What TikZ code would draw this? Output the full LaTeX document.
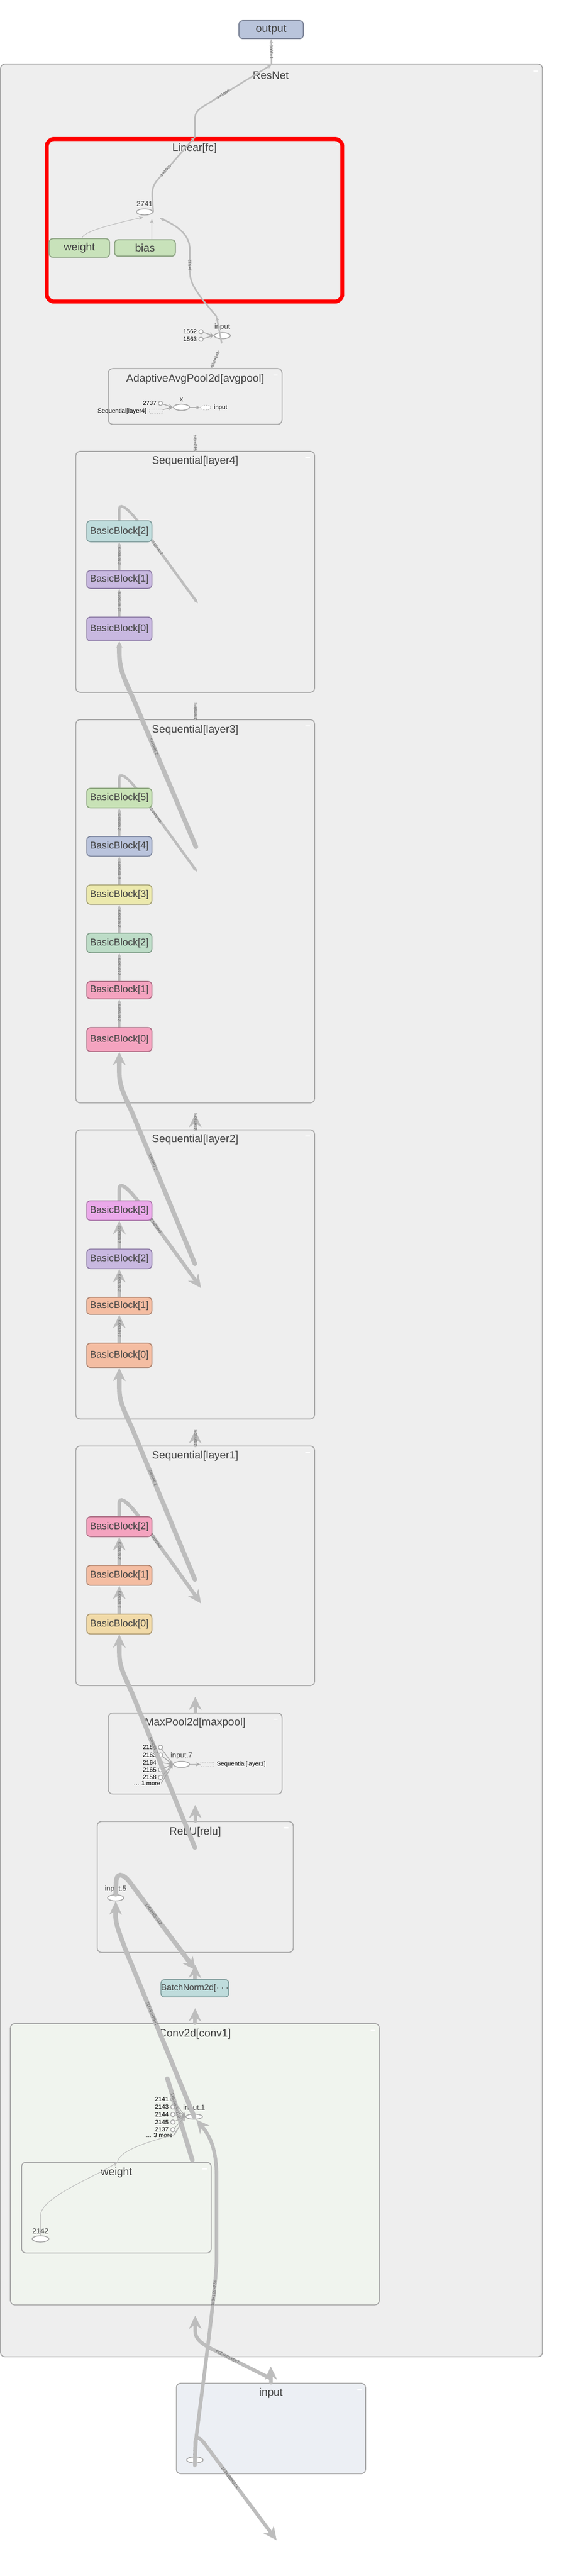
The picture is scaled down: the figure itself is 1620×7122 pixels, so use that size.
\documentclass[tikz,border=0pt]{standalone}
\usepackage{fontspec}
\setmainfont{Liberation Sans}
\usepackage{tikz}
\usetikzlibrary{positioning,shapes.geometric,arrows.meta}
\usepackage{xcolor}

\pgfdeclarelayer{front}
\pgfsetlayers{main,front}

\definecolor{boxfill}{HTML}{EEEEEE}
\definecolor{boxline}{HTML}{A8A8A8}
\definecolor{edgegray}{HTML}{BDBDBD}
\definecolor{txtgray}{HTML}{444444}
\definecolor{lblgray}{HTML}{666666}
\definecolor{convfill}{HTML}{F0F4EE}
\definecolor{inputfill}{HTML}{ECEFF4}
\definecolor{cout}{HTML}{B9C4DB}\definecolor{dout}{HTML}{7D8599}
\definecolor{cpar}{HTML}{C8E2BA}\definecolor{dpar}{HTML}{8EA584}
\definecolor{cteal}{HTML}{BFDCDC}\definecolor{dteal}{HTML}{7E9C9C}
\definecolor{clav}{HTML}{C8B8E0}\definecolor{dlav}{HTML}{8E7DA6}
\definecolor{cgrn}{HTML}{C8E2B6}\definecolor{dgrn}{HTML}{8DA67F}
\definecolor{cblu}{HTML}{B9C3DC}\definecolor{dblu}{HTML}{7E879E}
\definecolor{cyel}{HTML}{ECE9AD}\definecolor{dyel}{HTML}{A6A275}
\definecolor{cmnt}{HTML}{BDDCC7}\definecolor{dmnt}{HTML}{809D89}
\definecolor{cpnk}{HTML}{F4A3BF}\definecolor{dpnk}{HTML}{AE6F86}
\definecolor{corc}{HTML}{EBA9EA}\definecolor{dorc}{HTML}{A770A6}
\definecolor{cslm}{HTML}{F4BDA2}\definecolor{dslm}{HTML}{AE8571}
\definecolor{cwht}{HTML}{F1DAA8}\definecolor{dwht}{HTML}{AD9A72}

\begin{document}
\begin{tikzpicture}[%
    x=0.01cm,
    y=-0.01cm,
    node distance=0.77cm,
    group/.style={%
      rectangle,
      rounded corners=0.12cm,
      draw=boxline,
      line width=0.75pt,
      fill=boxfill,
      inner sep=0pt
    },
    grptitle/.style={font=\fontsize{8.5}{10}\selectfont, text=txtgray, inner sep=0pt},
    bb/.style={%
      rectangle,
      rounded corners=0.1cm,
      line width=0.7pt,
      fill=c#1,
      draw=d#1,
      minimum width=1.8cm,
      minimum height=0.54cm,
      inner sep=0pt,
      text=txtgray,
      font=\fontsize{7.7}{9}\selectfont
    },
    param/.style={%
      rectangle,
      rounded corners=0.1cm,
      fill=cpar,
      draw=dpar,
      line width=0.8pt,
      minimum width=1.67cm,
      minimum height=0.43cm,
      font=\fontsize{8.5}{10}\selectfont,
      text=txtgray
    },
    op/.style={ellipse, draw=boxline, fill=white, line width=0.7pt, minimum width=0.45cm, minimum height=0.17cm, inner sep=0pt},
    port/.style={circle, draw=boxline, fill=white, line width=0.6pt, minimum size=0.12cm, inner sep=0pt},
    dashnode/.style={rectangle, rounded corners=0.03cm, draw=boxline!70, dash pattern=on 1pt off 0.8pt, line width=0.4pt, minimum width=0.37cm, minimum height=0.12cm, inner sep=0pt},
    oplbl/.style={font=\fontsize{5.7}{6}\selectfont, text=txtgray, inner sep=0.5pt},
    portlbl/.style={font=\fontsize{4.8}{5}\selectfont, text=black, inner sep=0.5pt},
    lbl/.style={font=\fontsize{3.3}{3.5}\selectfont, text=lblgray, sloped, allow upside down, inner sep=0pt},
    feed/.style={draw=boxline, line width=0.6pt, -{Stealth[length=3.4pt,width=3pt]}},
    hairedge/.style={draw=edgegray, line width=0.45pt},
    slimedge/.style={draw=edgegray, line width=1.2pt, line cap=round},
    midedge/.style={draw=edgegray, line width=2pt, line cap=round},
    wideedge/.style={draw=edgegray, line width=2.8pt, line cap=round},
    fatedge/.style={draw=edgegray, line width=3.6pt, line cap=round},
    tipsmall/.style={-{Stealth[length=3.4pt,width=3pt,line width=0.2pt]}},
    tipmid/.style={-{Stealth[length=5pt,width=5pt,line width=0.2pt]}},
    tipbig/.style={-{Stealth[length=10.5pt,width=10pt,line width=0.2pt]}},
    minbar/.style={draw=white, line width=0.9pt}
  ]
    \useasboundingbox (0,0) rectangle (1620,7122);

    \node[group, minimum width=14.98cm, minimum height=63.35cm] (resnet) at (751,3346.5) {};
    \node[grptitle] (resnettitle) at (749,209) {ResNet};

    \node[group, draw=red, line width=3.1pt, rounded corners=0.2cm, minimum width=8.17cm, minimum height=4.49cm] (linear) at (538,609) {};
    \node[grptitle] (lineartitle) at ([yshift=-0.32cm]linear.north) {Linear[fc]};

    \node[group, minimum width=4.8cm, minimum height=1.54cm] (avgpool) at (540,1096) {};
    \node[grptitle] (avgpooltitle) at ([yshift=-0.31cm]avgpool.north) {AdaptiveAvgPool2d[avgpool]};

    \node[group, minimum width=6.6cm, minimum height=6.66cm] (layer4) at (540,1581) {};
    \node[grptitle] (layer4title) at ([yshift=-0.29cm]layer4.north) {Sequential[layer4]};
    \node[group, minimum width=6.6cm, minimum height=10.59cm] (layer3) at (540,2519.5) {};
    \node[grptitle] (layer3title) at ([yshift=-0.3cm]layer3.north) {Sequential[layer3]};
    \node[group, minimum width=6.6cm, minimum height=7.99cm] (layer2) at (540,3523.5) {};
    \node[grptitle] (layer2title) at ([yshift=-0.29cm]layer2.north) {Sequential[layer2]};
    \node[group, minimum width=6.6cm, minimum height=6.62cm] (layer1) at (540,4329) {};
    \node[grptitle] (layer1title) at ([yshift=-0.29cm]layer1.north) {Sequential[layer1]};

    \node[group, minimum width=4.8cm, minimum height=2.24cm] (maxpool) at (540,4848) {};
    \node[grptitle] (maxpooltitle) at ([yshift=-0.29cm]maxpool.north) {MaxPool2d[maxpool]};
    \node[group, minimum width=5.42cm, minimum height=3.62cm] (relu) at (540,5217) {};
    \node[grptitle] (relutitle) at ([yshift=-0.3cm]relu.north) {ReLU[relu]};

    \node[group, fill=convfill, minimum width=10.2cm, minimum height=7.77cm] (conv1) at (539,5983.5) {};
    \node[grptitle] (conv1title) at ([yshift=-0.3cm]conv1.north) {Conv2d[conv1]};
    \node[group, fill=convfill, minimum width=5.24cm, minimum height=2.51cm] (weightgrp) at (322,6103.5) {};
    \node[grptitle] (weightgrptitle) at ([yshift=-0.3cm]weightgrp.north) {weight};

    \node[group, fill=inputfill, minimum width=5.23cm, minimum height=2.5cm] (inputbox) at (749.5,6714) {};
    \node[grptitle] (inputboxtitle) at ([yshift=-0.29cm]inputbox.north) {input};

    \foreach \mx/\my in {1481/196, 934/400, 762/1037, 851/1265, 851/2007, 851/3141, 851/4015, 762/4753, 792/5053, 1032/5613, 566/5996, 994/6607}
      \draw[minbar] (\mx-6,\my) -- (\mx+6,\my);

    \node[op] (fc2741) at (400,586) {};
    \node[oplbl, above=0.03cm of fc2741] (t2741) {2741};

    \node[op] (fcinput) at (615,928) {};
    \node[oplbl, above=0.02cm of fcinput] (tfcinput) {input};
    \node[port] (c1562) at (556,917) {};
    \node[port] (c1563) at (556,938) {};
    \node[portlbl, left=0.02cm of c1562] (t1562) {1562};
    \node[portlbl, left=0.02cm of c1563] (t1563) {1563};

    \node[port] (c2737) at (444,1115) {};
    \node[portlbl, left=0.02cm of c2737] (t2737) {2737};
    \node[dashnode] (seql4) at (432,1137) {};
    \node[portlbl, left=0.05cm of seql4] (tseql4) {Sequential[layer4]};
    \node[op] (poolx) at (502,1126) {};
    \node[oplbl, above=0.03cm of poolx] (tpoolx) {x};
    \node[op, dash pattern=on 1pt off 0.8pt, line width=0.4pt, minimum width=0.29cm, minimum height=0.13cm] (poolin) at (569,1127) {};
    \node[portlbl, right=0.05cm of poolin] (tpoolin) {input};

    \begin{pgfonlayer}{front}
    \node[rectangle, rounded corners=0.1cm, fill=cout, draw=dout, line width=0.8pt, minimum width=1.78cm, minimum height=0.44cm, font=\fontsize{8.7}{10}\selectfont, text=txtgray] (output) at (750,82) {output};
    \node[param] (weight) at (219.5,685.5) {weight};
    \node[param, minimum width=1.68cm] (bias) at (401,685.5) {bias};

    \node[bb=lav, minimum height=0.66cm] (l4b0) at (330,1739) {BasicBlock[0]};
    \node[bb=lav, minimum height=0.49cm] (l4b1) [above=of l4b0] {BasicBlock[1]};
    \node[bb=teal, minimum height=0.58cm] (l4b2) [above=of l4b1] {BasicBlock[2]};

    \node[bb=pnk, minimum height=0.66cm] (l3b0) at (330,2874) {BasicBlock[0]};
    \node[bb=pnk, minimum height=0.48cm] (l3b1) [above=of l3b0] {BasicBlock[1]};
    \node[bb=mnt] (l3b2) [above=of l3b1] {BasicBlock[2]};
    \node[bb=yel] (l3b3) [above=of l3b2] {BasicBlock[3]};
    \node[bb=blu] (l3b4) [above=of l3b3] {BasicBlock[4]};
    \node[bb=grn] (l3b5) [above=of l3b4] {BasicBlock[5]};

    \node[bb=slm, minimum height=0.67cm] (l2b0) at (330,3747) {BasicBlock[0]};
    \node[bb=slm, minimum height=0.47cm] (l2b1) [above=of l2b0] {BasicBlock[1]};
    \node[bb=lav] (l2b2) [above=of l2b1] {BasicBlock[2]};
    \node[bb=orc] (l2b3) [above=of l2b2] {BasicBlock[3]};

    \node[bb=wht, minimum height=0.55cm] (l1b0) at (330,4490) {BasicBlock[0]};
    \node[bb=slm, minimum height=0.55cm] (l1b1) [above=of l1b0] {BasicBlock[1]};
    \node[bb=pnk, minimum height=0.55cm] (l1b2) [above=of l1b1] {BasicBlock[2]};

    \node[bb=teal, minimum height=0.48cm, font=\fontsize{6.8}{8}\selectfont] (bn) at (539,5497) {BatchNorm2d[$\cdots$};
    \end{pgfonlayer}

    \node[port] (c2162) at (444,4831) {};
    \node[port] (c2163) at (444,4852) {};
    \node[port] (c2164) at (444,4873) {};
    \node[port] (c2165) at (444,4893) {};
    \node[port] (c2158) at (444,4914) {};
    \node[portlbl, left=0.02cm of c2162] (t2162) {2162};
    \node[portlbl, left=0.02cm of c2163] (t2163) {2163};
    \node[portlbl, left=0.02cm of c2164] (t2164) {2164};
    \node[portlbl, left=0.02cm of c2165] (t2165) {2165};
    \node[portlbl, left=0.02cm of c2158] (t2158) {2158};
    \node[portlbl, anchor=east] (more1) at (446,4930) {... 1 more};
    \node[op] (in7) at (502,4878) {};
    \node[oplbl, above=0.03cm of in7] (tin7) {input.7};
    \node[dashnode] (seql1) at (573,4878) {};
    \node[portlbl, right=0.05cm of seql1] (tseql1) {Sequential[layer1]};

    \node[op] (in5) at (320,5247) {};
    \node[oplbl, above=0.03cm of in5] (tin5) {input.5};

    \node[port] (c2141) at (478,5804) {};
    \node[port] (c2143) at (478,5825) {};
    \node[port] (c2144) at (478,5846) {};
    \node[port] (c2145) at (478,5867) {};
    \node[port] (c2137) at (478,5888) {};
    \node[portlbl, left=0.02cm of c2141] (t2141) {2141};
    \node[portlbl, left=0.02cm of c2143] (t2143) {2143};
    \node[portlbl, left=0.02cm of c2144] (t2144) {2144};
    \node[portlbl, left=0.02cm of c2145] (t2145) {2145};
    \node[portlbl, left=0.02cm of c2137] (t2137) {2137};
    \node[portlbl, anchor=east] (more3) at (480,5903) {... 3 more};
    \node[op, minimum height=0.14cm, minimum width=0.46cm] (in1) at (537,5852) {};
    \node[oplbl, above=0.03cm of in1] (tin1) {input.1};
    \node[op, minimum width=0.46cm] (w2142) at (112,6190) {};
    \node[oplbl, above=0.03cm of w2142] (t2142) {2142};

    \node[op, minimum width=0.46cm] (inx) at (539,6801) {};
    \node[oplbl, above=0.03cm of inx] (tinx) {x};

    \coordinate (resnettop) at (751,179);
    \coordinate (fctop) at (539,379);
    \coordinate (fcin) at (599,875);
    \coordinate (fcinlow) at (613,948);
    \coordinate (poolout) at (584,1019);
    \coordinate (poolouttip) at (606,968);
    \coordinate (pooltip) at (540,1203);
    \coordinate (l4tip) at (540,1947);
    \coordinate (l3tip) at (540,3080);
    \coordinate (l2tip) at (540,3954);
    \coordinate (l1tip) at (540,4691);
    \coordinate (mptip) at (540,4990);
    \coordinate (relutip) at (540,5432);
    \coordinate (bntip) at (540,5552);
    \coordinate (inboxtip) at (749,6543);
    \coordinate (l4loop) at (547,1668);
    \coordinate (l3loop) at (545,2410);
    \coordinate (l2loop) at (556,3561);
    \coordinate (l1loop) at (556,4433);
    \coordinate (p3) at (542,2341);
    \coordinate (p2) at (539,3494);
    \coordinate (p1) at (539,4367);
    \coordinate (p0) at (539,5108);
    \coordinate (bnin) at (541,5447);
    \coordinate (bstart) at (463,5747);
    \coordinate (wtop) at (532,5972);
    \coordinate (wtip) at (325,5978);
    \coordinate (xbot) at (539,6816);
    \coordinate (outtip) at (765,7023);
    \coordinate (inboxedge) at (749,6576);
    \coordinate (resin) at (540,6402);

    \draw[slimedge, tipsmall] (resnettop) -- node[lbl] {1×1000} (output);
    \draw[slimedge, tipsmall] (fc2741.east) -- (421,540) .. controls (421,515) and (428,505) .. (444,488) -- node[lbl, pos=0.15] {1×1000} (fctop);
    \draw[slimedge, tipsmall] (fctop) -- (539,330) .. controls (539,312) and (548,302) .. (566,292) -- node[lbl, pos=0.28] {1×1000} (resnettop);
    \draw[hairedge, tipsmall] ([xshift=0.07cm]weight.north) .. controls (232,640) and (300,622) .. ([xshift=-0.04cm,yshift=-0.05cm]fc2741.south);
    \draw[hairedge, tipsmall] ([xshift=0.19cm]bias.north) -- ([xshift=0.2cm,yshift=-0.1cm]fc2741.south);
    \draw[slimedge, tipsmall] (fcinlow) -- (fcin);
    \draw[slimedge, tipsmall] (fcin) -- (560,828) .. controls (532,790) and (525,775) .. (525,745) -- node[lbl, pos=0.2] {1×512} (525,690) .. controls (525,645) and (485,622) .. ([xshift=0.42cm,yshift=-0.17cm]fc2741.center);
    \draw[feed] (c1562) -- (fcinput.west);
    \draw[feed] (c1563) -- (fcinput.west);

    \draw[slimedge, tipsmall] (poolout) -- node[lbl] {512×1×1} (poolouttip);
    \draw[feed] (c2737) -- (poolx.west);
    \draw[feed] (seql4) -- (poolx.west);
    \draw[feed] (poolx) -- (poolin);

    \draw[slimedge, tipsmall] (layer4.north) -- node[lbl] {512×4×7} (pooltip);
    \draw[midedge, tipsmall] (layer3.north) -- node[lbl] {2 tensors} (l4tip);
    \draw[wideedge, tipbig] (layer2.north) -- node[lbl] {2 tensors} (l3tip);
    \draw[wideedge, tipbig] (layer1.north) -- node[lbl] {2 tensors} (l2tip);
    \draw[wideedge, tipbig] (maxpool.north) -- (l1tip);
    \draw[wideedge, tipbig] (relu.north) -- (mptip);
    \draw[wideedge, tipbig] (bn.north) -- (relutip);
    \draw[wideedge, tipbig] (conv1.north) -- (bntip);
    \draw[wideedge, tipbig] (inputbox.north) -- (inboxtip);

    \path (l4b0) edge[midedge, tipsmall] node[lbl] {12 tensors} (l4b1)
          (l4b1) edge[midedge, tipsmall] node[lbl] {2 tensors} (l4b2)
          (l3b0) edge[midedge, tipsmall] node[lbl] {2 tensors} (l3b1)
          (l3b1) edge[midedge, tipsmall] node[lbl] {2 tensors} (l3b2)
          (l3b2) edge[midedge, tipsmall] node[lbl] {2 tensors} (l3b3)
          (l3b3) edge[midedge, tipsmall] node[lbl] {2 tensors} (l3b4)
          (l3b4) edge[midedge, tipsmall] node[lbl] {2 tensors} (l3b5)
          (l2b0) edge[wideedge, tipbig] node[lbl] {2 tensors} (l2b1)
          (l2b1) edge[wideedge, tipbig] node[lbl] {2 tensors} (l2b2)
          (l2b2) edge[wideedge, tipbig] node[lbl] {2 tensors} (l2b3)
          (l1b0) edge[wideedge, tipbig] node[lbl] {2 tensors} (l1b1)
          (l1b1) edge[wideedge, tipbig] node[lbl] {2 tensors} (l1b2)
          ;

    \draw[midedge, tipsmall] (l4b2.north) -- (330,1408) .. controls (330,1393) and (345,1396) .. (378,1437) -- node[lbl, pos=0.34] {512×4×7} (l4loop);
    \draw[midedge, tipsmall] (l3b5.north) -- (330,2152) .. controls (330,2137) and (345,2140) .. (378,2181) -- node[lbl, pos=0.32] {2 tensors} (l3loop);
    \draw[wideedge, tipbig] (l2b3.north) -- (330,3287) .. controls (330,3271) and (345,3274) .. (378,3316) -- node[lbl, pos=0.3] {2 tensors} (l2loop);
    \draw[wideedge, tipbig] (l1b2.north) -- (330,4156) .. controls (330,4140) and (345,4143) .. (378,4185) -- node[lbl, pos=0.3] {2 tensors} (l1loop);

    \draw[fatedge, tipmid] (p3) -- node[lbl, pos=0.68] {2 tensors} (370,1935) .. controls (342,1872) and (330,1850) .. (330,1805) -- (l4b0.south);
    \draw[fatedge, tipbig] (p2) -- node[lbl, pos=0.67] {2 tensors} (365,3075) .. controls (340,3020) and (330,3000) .. (330,2965) -- (l3b0.south);
    \draw[fatedge, tipbig] (p1) -- node[lbl, pos=0.67] {2 tensors} (365,3948) .. controls (340,3893) and (330,3873) .. (330,3838) -- (l2b0.south);
    \draw[fatedge, tipbig] (p0) -- node[lbl, pos=0.66] {2 tensors} (365,4680) .. controls (340,4625) and (330,4605) .. (330,4570) -- (l1b0.south);

    \foreach \c in {c2162,c2163,c2164,c2165,c2158}
      \draw[feed] (\c) -- (in7.west);
    \draw[feed] (more1.east) -- (in7.west);
    \draw[feed] (in7) -- (seql1);

    \draw[fatedge, tipbig] (in5.north) -- (321,5205) .. controls (322,5178) and (338,5176) .. (360,5205) -- node[lbl, pos=0.36] {1×64×55×112} (bnin);
    \draw[fatedge, tipbig] (in1.center) -- node[lbl, pos=0.61] {1×64×55×112} (345,5385) .. controls (333,5350) and (321,5325) .. (320,5300) -- (in5.south);
    \draw[fatedge] (bstart) -- node[lbl, pos=0.33] {1×64×55×112} (wtop);

    \foreach \c in {c2141,c2143,c2144,c2145,c2137}
      \draw[feed, line width=0.45pt] (\c) -- (in1.west);
    \draw[feed, line width=0.45pt] (more3.east) -- (in1.west);
    \draw[hairedge, tipsmall] (w2142.north) -- (112,6126) .. controls (112,6075) and (260,6020) .. (wtip);
    \draw[hairedge, tipsmall] (wtip) .. controls (328,5945) and (420,5918) .. (483,5902) -- (in1.west);

    \draw[wideedge, tipbig] (xbot) -- (542,6745) .. controls (560,6600) and (597,6330) .. node[lbl, pos=0.75] {1×3×109×224} (599,6250) -- (599,6020) .. controls (599,5950) and (585,5910) .. ([xshift=0.06cm]in1.south);
    \draw[wideedge, tipbig] (xbot) -- (540,6752) .. controls (541,6735) and (552,6737) .. (566,6756) -- node[lbl, pos=0.35] {1×3×109×224} (outtip);
    \draw[wideedge, tipbig] (inboxedge) -- node[lbl, pos=0.73] {1×3×109×224} (585,6494) .. controls (548,6475) and (540,6460) .. (540,6445) -- (resin);
  \end{tikzpicture}
\end{document}
